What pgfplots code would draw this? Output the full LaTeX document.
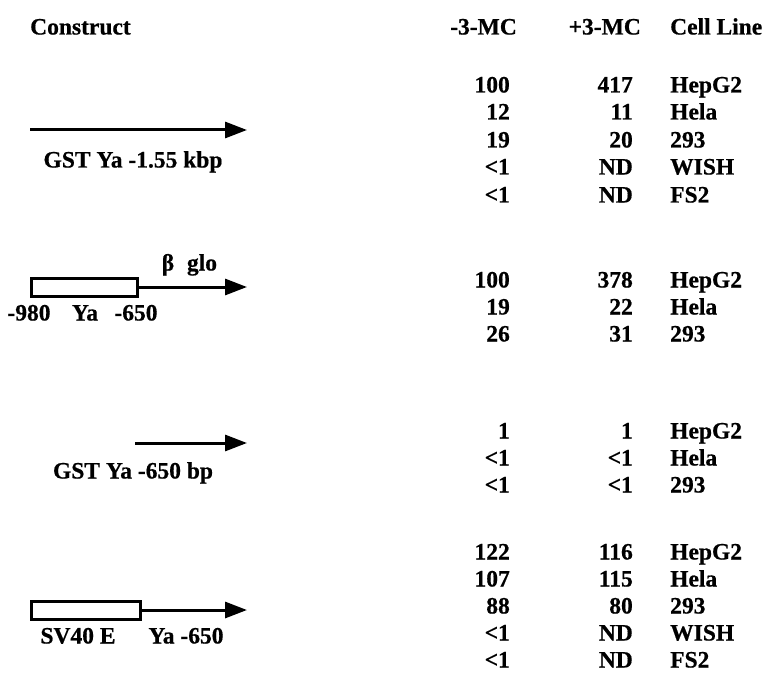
\documentclass[border=0pt]{standalone}
\usepackage{pgfplots}
\pgfplotsset{compat=1.18}
\usepackage{pgfplotstable}
\usetikzlibrary{arrows.meta}
\usepackage{fontspec}
\setmainfont{Liberation Serif}[BoldFeatures={FakeBold=0.6}]

% text columns: x, y (pixels from top), text
\pgfplotstableread[col sep=comma]{
x,y,t
510,85,100
510,112,12
510,140,19
510,167,<1
510,195,<1
510,280,100
510,307,19
510,334,26
510,431,1
510,458,<1
510,485,<1
510,552,122
510,579,107
510,606,88
510,633,<1
510,660,<1
}\minusMC

\pgfplotstableread[col sep=comma]{
x,y,t
633,85,417
633,112,11
633,140,20
633,167,ND
633,195,ND
633,280,378
633,307,22
633,334,31
633,431,1
633,458,<1
633,485,<1
633,552,116
633,579,115
633,606,80
633,633,ND
633,660,ND
}\plusMC

\pgfplotstableread[col sep=comma]{
x,y,t
670,85,HepG2
670,112,Hela
670,140,293
670,167,WISH
670,195,FS2
670,280,HepG2
670,307,Hela
670,334,293
670,431,HepG2
670,458,Hela
670,485,293
670,552,HepG2
670,579,Hela
670,606,293
670,633,WISH
670,660,FS2
}\cells

\pgfplotstableread[col sep=comma]{
x,y,t
133,160,GST Ya -1.55 kbp
168,263,β
202,263,glo
29,313,-980
85,313,Ya
136,313,-650
133,471,GST Ya -650 bp
78,636,SV40 E
186,636,Ya -650
}\labels

\pgfplotsset{
  txt/.style={draw=none, mark=none, nodes near coords,
    point meta=explicit symbolic,
    nodes near coords align={anchor=#1},
    every node near coord/.append style={anchor=#1, inner sep=0pt,
      text height=15bp, text depth=0pt}},
}

\begin{document}%
\fontsize{23.5bp}{28bp}\selectfont\bfseries%
\begin{tikzpicture}
\begin{axis}[
  scale only axis, width=765bp, height=696bp,
  xmin=0, xmax=765, ymin=0, ymax=696, y dir=reverse,
  hide axis, clip=false,
]
\addplot[draw=none] coordinates {(0,0) (765,696)};

% headers
\addplot[txt=west] coordinates {(30,27) [Construct] (670,27) [Cell Line]};
\addplot[txt=east] coordinates {(517,27) [-3-MC] (641,27) [+3-MC]};

% values
\addplot[txt=east] table[x=x, y=y, meta=t] {\minusMC};
\addplot[txt=east] table[x=x, y=y, meta=t] {\plusMC};
\addplot[txt=west] table[x=x, y=y, meta=t] {\cells};
\addplot[txt=center] table[x=x, y=y, meta=t] {\labels};

% constructs
\addplot[line width=3bp, -{Triangle[length=22bp, width=16bp]}] coordinates {(30,130) (247,130)};
\addplot[line width=3bp, line join=miter] coordinates {(31,278) (137,278) (137,296) (31,296) (31,278) (137,278)};
\addplot[line width=3bp, -{Triangle[length=22bp, width=16bp]}] coordinates {(137,287) (247,287)};
\addplot[line width=3bp, -{Triangle[length=22bp, width=16bp]}] coordinates {(135,443) (247,443)};
\addplot[line width=3bp, line join=miter] coordinates {(31,601) (140,601) (140,619) (31,619) (31,601) (140,601)};
\addplot[line width=3bp, -{Triangle[length=22bp, width=16bp]}] coordinates {(140,610) (247,610)};
\end{axis}
\end{tikzpicture}%
\end{document}
